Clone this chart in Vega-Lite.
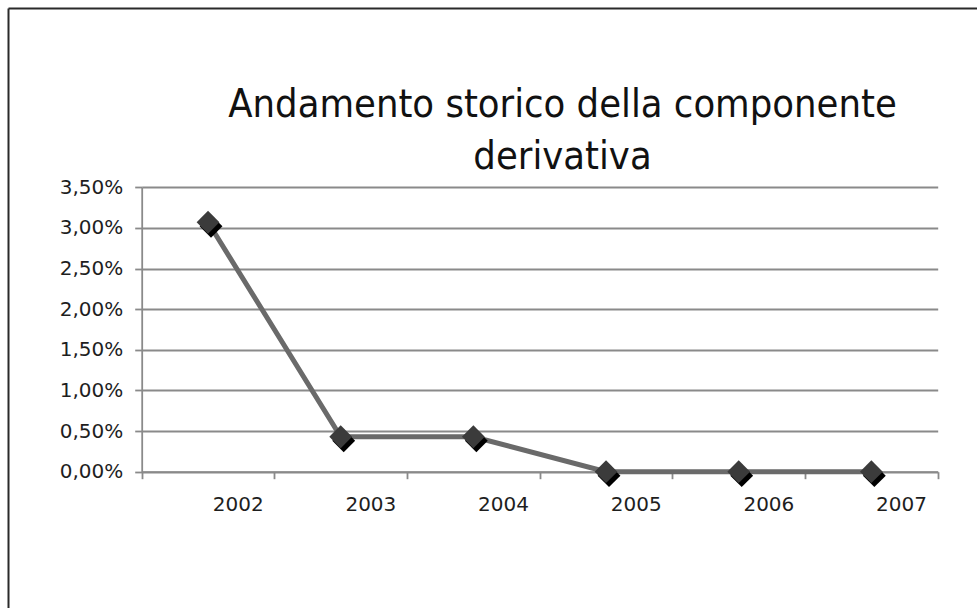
{
  "$schema": "https://vega.github.io/schema/vega-lite/v6.json",
  "width": 969,
  "height": 600,
  "autosize": {"type": "none"},
  "padding": {"left": 8, "top": 8, "right": 0, "bottom": 0},
  "background": "white",
  "title": {
    "text": ["Andamento storico della componente", "derivativa"],
    "orient": "top",
    "anchor": "middle",
    "frame": "group",
    "baseline": "alphabetic",
    "offset": -200,
    "dx": 70,
    "font": "DejaVu Sans Condensed",
    "fontSize": 39.5,
    "fontWeight": "normal",
    "color": "#111111",
    "lineHeight": 52
  },
  "data": {
    "values": [
      {"anno": 2002, "valore": 0.0307},
      {"anno": 2003, "valore": 0.0043},
      {"anno": 2004, "valore": 0.0043},
      {"anno": 2005, "valore": 0.0},
      {"anno": 2006, "valore": 0.0},
      {"anno": 2007, "valore": 0.0}
    ]
  },
  "config": {
    "view": {"stroke": null}
  },
  "resolve": {
    "scale": {"x": "independent", "y": "independent"},
    "axis": {"x": "independent", "y": "independent"}
  },
  "layer": [
    {
      "encoding": {
        "x": {
          "field": "anno",
          "type": "quantitative",
          "scale": {"domain": [2001.5, 2007.5], "range": [133.7, 929.7], "nice": false, "zero": false},
          "axis": {
            "orient": "bottom",
            "offset": -136.3,
            "title": null,
            "values": [2001.5, 2002.5, 2003.5, 2004.5, 2005.5, 2006.5, 2007.5],
            "labelExpr": "datum.value < 2007 ? toString(datum.value + 0.5) : ''",
            "labelOffset": 96,
            "labelFont": "DejaVu Sans",
            "labelFontSize": 20,
            "labelColor": "#1e1e1e",
            "labelPadding": 16,
            "labelFlush": false,
            "labelOverlap": false,
            "labelBound": false,
            "grid": false,
            "domainColor": "#8a8a8a",
            "domainWidth": 1.8,
            "tickColor": "#8a8a8a",
            "tickWidth": 1.8,
            "tickSize": 7
          }
        },
        "y": {
          "field": "valore",
          "type": "quantitative",
          "scale": {"domain": [0, 0.035], "range": [463.7, 179.3], "nice": false, "zero": false},
          "axis": {
            "orient": "left",
            "offset": -133.7,
            "title": null,
            "values": [0, 0.005, 0.01, 0.015, 0.02, 0.025, 0.03, 0.035],
            "labelExpr": "replace(format(datum.value, '.2%'), '.', ',')",
            "labelFont": "DejaVu Sans",
            "labelFontSize": 20,
            "labelColor": "#1e1e1e",
            "labelPadding": 12,
            "grid": true,
            "gridColor": "#8a8a8a",
            "gridWidth": 1.8,
            "domainColor": "#8a8a8a",
            "domainWidth": 1.8,
            "tickColor": "#8a8a8a",
            "tickWidth": 1.8,
            "tickSize": 7
          }
        }
      },
      "layer": [
        {"mark": {"type": "line", "color": "#6a6a6a", "strokeWidth": 5}},
        {"mark": {"type": "point", "shape": "diamond", "filled": true, "color": "#000000", "opacity": 1, "size": 520, "xOffset": 3, "yOffset": 4}},
        {"mark": {"type": "point", "shape": "diamond", "filled": true, "color": "#3b3b3b", "opacity": 1, "size": 520}}
      ]
    },
    {
      "mark": {"type": "point", "opacity": 0},
      "encoding": {
        "x": {
          "field": "anno",
          "type": "quantitative",
          "scale": {"domain": [2001.5, 2007.5], "range": [0, 969], "nice": false, "zero": false},
          "axis": {"orient": "top", "offset": 0, "title": null, "labels": false, "ticks": false, "grid": false, "domainColor": "#2a2a2a", "domainWidth": 2}
        },
        "y": {
          "field": "valore",
          "type": "quantitative",
          "scale": {"domain": [0, 0.035], "range": [600, 0], "nice": false, "zero": false},
          "axis": {"orient": "left", "offset": 0, "title": null, "labels": false, "ticks": false, "grid": false, "domainColor": "#2a2a2a", "domainWidth": 2}
        }
      }
    }
  ]
}
